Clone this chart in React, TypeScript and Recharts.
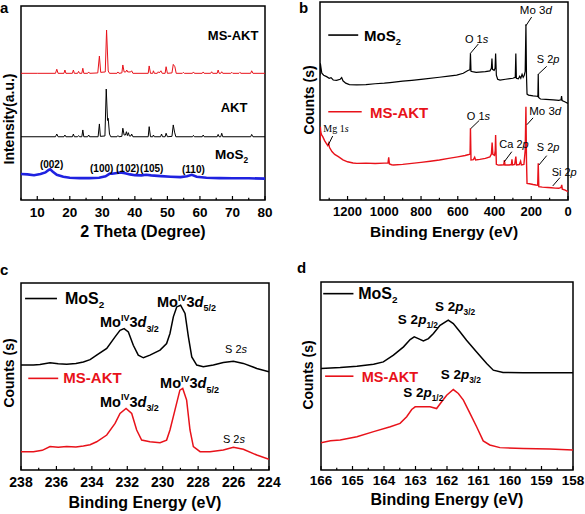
import { LineChart, Line, XAxis, YAxis, ReferenceArea, ReferenceLine, ReferenceDot } from 'recharts';

const FONT = '"Liberation Sans", Arial, sans-serif';
const SERIF = '"Liberation Serif", "Times New Roman", serif';
const RED = '#e8121a';
const BLUE = '#1f22e0';

type Pt = [number, number];
type Part = [string, ('n' | 'i' | 'sub' | 'sup')?];
type Note = { x: number; y: number; parts: Part[]; size: number; bold?: boolean; color?: string; anchor?: 'start' | 'middle'; serif?: boolean };
type Seg = { x1: number; y1: number; x2: number; y2: number; color?: string; width?: number };

// ---------- a: XRD ----------
const xrdTicks = [5, 10, 15, 20, 25, 30, 35, 40, 45, 50, 55, 60, 65, 70, 75, 80];
const xrdLabels = [10, 20, 30, 40, 50, 60, 70, 80];

const xrdMsAkt: Pt[] = [
  [5, 65.3], [10, 65.3], [15.6, 65.3], [16, 67.4], [16.4, 65.3], [18.2, 65.3], [18.5, 67], [18.8, 65.3],
  [20.8, 65.3], [21.1, 67], [21.4, 65.3], [22.4, 65.3], [22.7, 66.3], [23, 65.3], [23.7, 65.3], [24, 67.9],
  [24.3, 65.3], [25.5, 65.3], [25.8, 66], [26.1, 65.3], [28.6, 65.5], [29.1, 74.2], [29.5, 65.8], [30.9, 66],
  [31.3, 87.6], [31.8, 66.5], [32.2, 65.3], [34.5, 65.3], [34.8, 66], [35.1, 65.3], [36, 65.5], [36.3, 69.6],
  [36.7, 66], [37.2, 66], [37.5, 67], [37.8, 66], [38.7, 66], [39, 66.6], [39.4, 65.3], [44.1, 65.3],
  [44.4, 69.1], [44.8, 65.3], [45.5, 65.3], [45.7, 66.6], [46, 65.3], [46.9, 65.3], [47.2, 66.1], [47.5, 65.5],
  [48, 66.6], [48.4, 65.3], [49.3, 65.3], [49.6, 68.7], [50, 65.3], [51.4, 65.5], [51.8, 69.9], [52.3, 68.7],
  [52.7, 65.3], [54.6, 65.3], [54.9, 65.8], [55.2, 65.3], [57.7, 65.3], [58, 66], [58.3, 65.3], [60.7, 65.3],
  [61, 66], [61.3, 65.3], [63.3, 65.3], [63.6, 66.1], [63.9, 65.3], [65.3, 65.3], [65.6, 67], [65.9, 65.3],
  [66.4, 65.3], [66.7, 66.1], [67, 65.3], [69.5, 65.3], [69.8, 65.8], [70.1, 65.3], [72, 65.3], [72.3, 65.8],
  [72.6, 65.3], [75.6, 65.3], [75.9, 66.6], [76.3, 65.3], [80, 65.3],
];

const xrdAkt: Pt[] = [
  [5, 32.6], [15.6, 32.6], [16, 34], [16.4, 32.6], [18.2, 32.6], [18.5, 33.5], [18.8, 32.6], [20.8, 32.6],
  [21.1, 34], [21.4, 32.6], [22.4, 32.6], [22.7, 33.2], [23, 32.6], [23.7, 32.6], [24, 36.1], [24.3, 32.6],
  [25.5, 32.6], [25.8, 33.5], [26.1, 32.6], [28.7, 32.6], [29.1, 39.2], [29.4, 32.8], [30.8, 33], [31.2, 57.2],
  [31.6, 41], [31.8, 42.1], [32.2, 34], [32.6, 32.6], [34.5, 32.6], [34.8, 33.2], [35.1, 32.6], [36, 32.8],
  [36.3, 37], [36.7, 33.5], [37.1, 33.5], [37.4, 35.2], [37.7, 33.2], [38, 34.7], [38.3, 33], [38.8, 33],
  [39, 34], [39.4, 32.6], [44.1, 32.6], [44.4, 37.8], [44.8, 32.6], [45.5, 32.6], [45.7, 33.5], [46, 32.6],
  [47.9, 32.6], [48.2, 34], [48.5, 32.6], [49.3, 32.6], [49.6, 34.4], [50, 32.6], [51.4, 32.8], [51.8, 38.7],
  [52.2, 35], [52.6, 32.6], [57.7, 32.6], [58, 33.3], [58.3, 32.6], [60.7, 32.6], [61, 33.5], [61.3, 32.6],
  [65.3, 32.6], [65.6, 33.8], [65.9, 32.6], [66.4, 32.6], [66.7, 34.4], [67, 32.6], [75.6, 32.6], [75.9, 33.8],
  [76.3, 32.6], [80, 32.6],
];

const xrdMos2: Pt[] = [
  [5, 13.4], [7, 13.2], [9, 12.8], [11, 13.4], [12.5, 14.2], [13.5, 15.5], [14, 15.8], [14.8, 14.5], [16, 13],
  [18, 12], [20, 11.5], [23, 11.3], [26, 11.3], [29, 11.5], [31, 12.2], [32.3, 13.6], [33, 13.5], [34, 13.8],
  [35.5, 14.2], [37, 13.8], [38.5, 13.2], [40, 12.8], [42, 12.7], [43.5, 13], [45, 12.7], [48, 12.3], [51, 12],
  [54, 11.8], [56, 12.2], [57.5, 13], [59, 12], [62, 11.5], [66, 11.3], [70, 11.2], [75, 11.2], [80, 11],
];

const xrdNotes: Note[] = [
  { x: 70.2, y: 82.5, parts: [['MS-AKT']], size: 13, anchor: 'middle' },
  { x: 70.5, y: 45.5, parts: [['AKT']], size: 13, anchor: 'middle' },
  { x: 64.6, y: 21, parts: [['MoS'], ['2', 'sub']], size: 13.5 },
  { x: 14.4, y: 16.3, parts: [['(002)']], size: 10, anchor: 'middle' },
  { x: 29.8, y: 14.6, parts: [['(100)']], size: 10, anchor: 'middle' },
  { x: 37.8, y: 14.6, parts: [['(102)']], size: 10, anchor: 'middle' },
  { x: 45.2, y: 14.6, parts: [['(105)']], size: 10, anchor: 'middle' },
  { x: 58, y: 13.7, parts: [['(110)']], size: 10, anchor: 'middle' },
];

// ---------- b: XPS survey ----------
const surveyTicks = [0, 100, 200, 300, 400, 500, 600, 700, 800, 900, 1000, 1100, 1200, 1300];
const surveyLabels = [0, 200, 400, 600, 800, 1000, 1200];

const surveyMos2: Pt[] = [
  [1350, 63], [1348, 69], [1345, 67], [1340, 64], [1330, 63], [1314, 62.3], [1300, 61.5], [1290, 61.8],
  [1278, 60.6], [1260, 60.4], [1240, 61], [1232, 61.8], [1225, 60.2], [1210, 59], [1190, 58.3], [1150, 58.1],
  [1100, 58.3], [1050, 58.7], [1000, 59], [969, 59.3], [900, 60], [850, 60.4], [788, 61], [700, 62],
  [650, 62.6], [606, 63.1], [570, 64], [545, 65.4], [534, 65.7], [531, 74.1], [528, 65], [520, 64.8],
  [500, 64.5], [450, 64.8], [425, 65.2], [417, 66.5], [414, 71.5], [411, 66], [402, 65.5], [397, 66.5],
  [394, 74], [390, 63], [383, 61], [370, 60.6], [340, 61], [300, 61.5], [287, 62], [284, 74], [281, 61.5],
  [270, 61.2], [263, 62.5], [257, 61.5], [250, 63.5], [244, 62], [238, 63], [233, 65], [229, 88.7],
  [226, 63], [223, 53.5], [215, 53], [190, 52.6], [170, 52.4], [164, 52.2], [162, 63.6], [160, 51.8],
  [150, 51], [120, 50.8], [80, 50.6], [50, 50.3], [38, 50.6], [35, 52.5], [32, 50.2], [15, 49.5], [0, 48.8],
];

const surveyMsAkt: Pt[] = [
  [1350, 30], [1348, 37], [1346, 34.5], [1342, 33], [1335, 32], [1325, 30], [1315, 28.5], [1308, 27.5],
  [1303, 28.6], [1298, 26.5], [1285, 24.5], [1270, 23], [1250, 21.9], [1225, 20.3], [1200, 19.3],
  [1170, 18.7], [1150, 18.5], [1100, 18.6], [1050, 18.4], [1000, 18.6], [980, 18.7], [976, 21.6],
  [972, 18.2], [960, 17.8], [950, 17.7], [900, 18], [850, 18.5], [800, 19], [750, 19.6], [700, 20.2],
  [650, 21], [600, 21.8], [560, 22.5], [540, 23], [533, 23.2], [531, 36.2], [528, 20.2], [515, 20.4],
  [508, 21.6], [503, 20.2], [480, 20.5], [450, 21], [425, 21.8], [417, 23.2], [413, 29], [409, 23],
  [400, 22.5], [396, 25], [394, 32.8], [390, 18], [380, 17.6], [365, 17.7], [350, 17.8], [346, 20.2],
  [343, 17.7], [320, 17.7], [308, 17.9], [305, 20.5], [302, 17.7], [290, 18], [284, 21.9], [280, 17.7],
  [265, 17.9], [258, 19.6], [254, 17.7], [240, 18], [233, 25], [229, 47.1], [226, 20], [223, 8.4],
  [210, 8.2], [190, 7.8], [175, 7.6], [165, 7.5], [162, 18.5], [159, 6.7], [140, 6.5], [110, 6.3],
  [90, 6.2], [70, 6], [50, 5.9], [38, 6.3], [34, 7.6], [31, 5.5], [15, 5], [0, 4.2],
];

const surveyNotes: Note[] = [
  { x: 1110, y: 80.5, parts: [['MoS'], ['2', 'sub']], size: 15 },
  { x: 1078, y: 41.6, parts: [['MS-AKT']], size: 15, color: RED },
  { x: 561, y: 79.1, parts: [['O 1'], ['s', 'i']], size: 11, bold: false },
  { x: 262, y: 93.8, parts: [['Mo 3'], ['d', 'i']], size: 11.5, bold: false },
  { x: 170, y: 69, parts: [['S 2'], ['p', 'i']], size: 11, bold: false },
  { x: 551, y: 40.4, parts: [['O 1'], ['s', 'i']], size: 11, bold: false },
  { x: 211, y: 42.9, parts: [['Mo 3'], ['d', 'i']], size: 11.5, bold: false },
  { x: 374, y: 26.1, parts: [['Ca 2'], ['p', 'i']], size: 11, bold: false },
  { x: 170, y: 24.7, parts: [['S 2'], ['p', 'i']], size: 11, bold: false },
  { x: 89, y: 12.1, parts: [['Si 2'], ['p', 'i']], size: 11, bold: false },
  { x: 1332, y: 34.5, parts: [['Mg 1'], ['s', 'i']], size: 10, bold: false, serif: true },
];

const surveySegs: Seg[] = [
  { x1: 1305, y1: 83.3, x2: 1142, y2: 83.3, width: 1.6 },
  { x1: 1305, y1: 44.6, x2: 1123, y2: 44.6, color: RED, width: 1.6 },
  { x1: 531, y1: 74.1, x2: 488, y2: 78.8 },
  { x1: 229, y1: 88, x2: 198, y2: 92.4 },
  { x1: 162, y1: 63.5, x2: 116, y2: 67.5 },
  { x1: 530, y1: 36, x2: 483, y2: 40.2 },
  { x1: 224, y1: 38, x2: 190, y2: 41.5 },
  { x1: 347, y1: 19.3, x2: 306, y2: 24.4 },
  { x1: 158, y1: 17.7, x2: 116, y2: 22.4 },
  { x1: 83, y1: 7.1, x2: 44, y2: 11.3 },
  { x1: 1305, y1: 27.8, x2: 1281, y2: 32.3 },
];

// ---------- c: Mo 3d ----------
const moTicks = [224, 225, 226, 227, 228, 229, 230, 231, 232, 233, 234, 235, 236, 237, 238];
const moLabels = [224, 226, 228, 230, 232, 234, 236, 238];

const mo3dMos2: Pt[] = [
  [238, 56.1], [237.3, 56.2], [236.93, 56.4], [236.36, 57.3], [235.9, 56.8], [235.42, 56.6], [234.9, 57],
  [234.48, 57.8], [234.1, 59], [233.73, 61.4], [233.16, 65], [232.69, 71.2], [232.41, 74.7], [232.18, 75.6],
  [231.94, 73.8], [231.66, 66.7], [231.38, 61.4], [231.09, 60], [230.72, 61.4], [230.15, 64.1], [229.78, 67.6],
  [229.59, 73], [229.4, 81.9], [229.21, 87.2], [228.99, 88.1], [228.74, 83.7], [228.55, 71.2], [228.36, 60.5],
  [228.08, 56.1], [227.71, 55.2], [227.14, 56.1], [226.58, 57.5], [226.01, 58.2], [225.45, 57], [224.69, 54.3],
  [224, 52.5],
];

const mo3dMsAkt: Pt[] = [
  [238, 9.8], [237.3, 9.8], [236.8, 10.5], [236.36, 12.5], [235.9, 12.2], [235.42, 12.5], [234.9, 12.3],
  [234.48, 12.8], [234.1, 13.5], [233.73, 15.1], [233.16, 18.7], [232.69, 24.9], [232.41, 30.2], [232.07, 32.9],
  [231.75, 30.2], [231.47, 21.4], [231.19, 16], [230.72, 15.1], [230.15, 14.6], [229.78, 16], [229.59, 21.4],
  [229.31, 32], [229.03, 42.7], [228.87, 43.6], [228.65, 37.4], [228.46, 21.4], [228.27, 12.5], [227.89, 9.8],
  [227.33, 9.8], [226.58, 10.7], [226.01, 12.1], [225.45, 11.1], [224.69, 8], [224, 5.7],
];

const moIv = (j: string): Part[] => [['Mo'], ['IV', 'sup'], ['3'], ['d', 'i'], [j, 'sub']];

const mo3dNotes: Note[] = [
  { x: 235.52, y: 89, parts: [['MoS'], ['2', 'sub']], size: 16 },
  { x: 235.61, y: 46.3, parts: [['MS-AKT']], size: 15, color: RED },
  { x: 233.54, y: 76.3, parts: moIv('3/2'), size: 14.5 },
  { x: 230.32, y: 87.1, parts: moIv('5/2'), size: 14.5 },
  { x: 226.48, y: 62.3, parts: [['S 2'], ['s', 'i']], size: 11, bold: false },
  { x: 233.54, y: 33.8, parts: moIv('3/2'), size: 14.5 },
  { x: 230.15, y: 43.6, parts: moIv('5/2'), size: 14.5 },
  { x: 226.6, y: 14.2, parts: [['S 2'], ['s', 'i']], size: 11, bold: false },
];

const mo3dSegs: Seg[] = [
  { x1: 237.77, y1: 91.7, x2: 235.97, y2: 91.7, width: 1.6 },
  { x1: 237.59, y1: 49, x2: 235.9, y2: 49, color: RED, width: 1.6 },
];

// ---------- d: S 2p ----------
const sTicks = [158, 158.5, 159, 159.5, 160, 160.5, 161, 161.5, 162, 162.5, 163, 163.5, 164, 164.5, 165, 165.5, 166];
const sLabels = [158, 159, 160, 161, 162, 163, 164, 165, 166];

const s2pMos2: Pt[] = [
  [166, 54], [165.39, 54.5], [164.86, 55.2], [164.33, 56.3], [164.02, 57.5], [163.7, 61.1], [163.38, 65.5],
  [163.17, 69.4], [163.04, 70.8], [162.91, 69.9], [162.75, 68.7], [162.59, 69.9], [162.43, 72.6], [162.22, 77],
  [161.96, 79.7], [161.8, 77.9], [161.59, 73.5], [161.38, 69], [161.06, 62.8], [160.74, 56.7], [160.53, 53.1],
  [160.22, 51.9], [159.58, 51.7], [158.74, 51.7], [158, 51.7],
];

const s2pMsAkt: Pt[] = [
  [166, 14.5], [165.7, 15.6], [165.39, 15.9], [164.86, 17.7], [164.33, 20.4], [163.8, 23], [163.49, 24.8],
  [163.28, 28.3], [163.12, 32.2], [163.01, 33.6], [162.75, 33.6], [162.54, 33.6], [162.33, 32.7], [162.17, 36.3],
  [162.01, 39.8], [161.8, 42.8], [161.64, 40.7], [161.48, 37.2], [161.27, 30.1], [161.06, 23], [160.85, 15.5],
  [160.64, 13.3], [160.32, 11.9], [159.58, 11.5], [158.74, 11.2], [158, 10.6],
];

const s2p = (j: string): Part[] => [['S 2'], ['p', 'i'], [j, 'sub']];

const s2pNotes: Note[] = [
  { x: 164.82, y: 91.2, parts: [['MoS'], ['2', 'sub']], size: 16 },
  { x: 164.71, y: 46.9, parts: [['MS-AKT']], size: 14.5, color: RED },
  { x: 163.56, y: 77.5, parts: s2p('1/2'), size: 13.5 },
  { x: 162.38, y: 84.6, parts: s2p('3/2'), size: 13.5 },
  { x: 163.39, y: 38.6, parts: s2p('1/2'), size: 13.5 },
  { x: 162.2, y: 48.2, parts: s2p('3/2'), size: 13.5 },
];

const s2pSegs: Seg[] = [
  { x1: 165.93, y1: 93.8, x2: 164.97, y2: 93.8, width: 1.6 },
  { x1: 165.87, y1: 49.9, x2: 164.97, y2: 49.9, color: RED, width: 1.6 },
];

// ---------- helpers ----------
const pts = (a: Pt[]) => a.map(([x, y]) => ({ x, y }));

function rich(parts: Part[], size: number) {
  let shift = 0;
  return parts.map(([t, kind], i) => {
    const target = kind === 'sub' ? size * 0.3 : kind === 'sup' ? -size * 0.45 : 0;
    const dy = target - shift;
    shift = target;
    const small = kind === 'sub' || kind === 'sup';
    return (
      <tspan key={i} dy={dy} fontSize={small ? size * 0.62 : size} fontStyle={kind === 'i' ? 'italic' : 'normal'}>
        {t}
      </tspan>
    );
  });
}

const noteDot = (n: Note, key: string) => (
  <ReferenceDot
    key={key}
    x={n.x}
    y={n.y}
    r={0}
    ifOverflow="visible"
    shape={(p: any) => (
      <text
        x={p.cx}
        y={p.cy}
        fontFamily={n.serif ? SERIF : FONT}
        fontWeight={n.bold === false ? 'normal' : 'bold'}
        fontSize={n.size}
        fill={n.color ?? '#000'}
        textAnchor={n.anchor ?? 'start'}
      >
        {rich(n.parts, n.size)}
      </text>
    )}
  />
);

const segLine = (s: Seg, key: string) => (
  <ReferenceLine
    key={key}
    segment={[{ x: s.x1, y: s.y1 }, { x: s.x2, y: s.y2 }]}
    stroke={s.color ?? '#000'}
    strokeWidth={s.width ?? 1}
  />
);

const axisTick = (labels: number[], size: number, gap: number, len: number) => (p: any) => {
  const v = p.payload.value;
  const major = labels.includes(v);
  return (
    <g>
      <line x1={p.x} x2={p.x} y1={p.y} y2={p.y - (major ? len : len * 0.55)} stroke="#000" strokeWidth={1.2} />
      {major ? (
        <text x={p.x} y={p.y + gap} textAnchor="middle" fontFamily={FONT} fontWeight="bold" fontSize={size} fill="#000">
          {v}
        </text>
      ) : null}
    </g>
  );
};

const title = (text: string, x: number, y: number, size: number) => () => (
  <text x={x} y={y} textAnchor="middle" fontFamily={FONT} fontWeight="bold" fontSize={size} fill="#000">
    {text}
  </text>
);

const yTitle = (text: string, x: number, y: number, size: number) => () => (
  <text transform={`translate(${x},${y}) rotate(-90)`} textAnchor="middle" fontFamily={FONT} fontWeight="bold" fontSize={size} fill="#000">
    {text}
  </text>
);

const frame = (x1: number, x2: number) => (
  <ReferenceArea x1={x1} x2={x2} y1={0} y2={100} fill="none" fillOpacity={0} stroke="#000" strokeWidth={1.5} ifOverflow="visible" />
);

export default function App() {
  return (
    <div style={{ position: 'absolute', left: 0, top: 0, width: 585, height: 514, background: '#fff' }}>
      <div style={{ position: 'absolute', left: 0, top: 0 }}>
        <LineChart width={290} height={250} margin={{ top: 6, right: 25, bottom: 0, left: 0 }}>
          <XAxis type="number" dataKey="x" domain={[5, 80]} ticks={xrdTicks} interval={0} height={50}
            tickSize={0} tickMargin={0} tickLine={false} axisLine={false} allowDataOverflow
            tick={axisTick(xrdLabels, 13.5, 16.5, 4)}
            label={{ content: title('2 Theta (Degree)', 143, 237, 16) }} />
          <YAxis type="number" domain={[0, 100]} width={21} tick={false} tickLine={false} axisLine={false} allowDataOverflow
            label={{ content: yTitle('Intensity(a.u.)', 14, 119, 14) }} />
          {frame(5, 80)}
          <Line data={pts(xrdMos2)} dataKey="y" stroke={BLUE} strokeWidth={2.6} dot={false} isAnimationActive={false} />
          <Line data={pts(xrdAkt)} dataKey="y" stroke="#000" strokeWidth={1} dot={false} isAnimationActive={false} />
          <Line data={pts(xrdMsAkt)} dataKey="y" stroke={RED} strokeWidth={1} dot={false} isAnimationActive={false} />
          {xrdNotes.map((n, i) => noteDot(n, `a${i}`))}
        </LineChart>
      </div>

      <div style={{ position: 'absolute', left: 290, top: 0 }}>
        <LineChart width={295} height={250} margin={{ top: 2, right: 17, bottom: 0, left: 0 }}>
          <XAxis type="number" dataKey="x" domain={[0, 1350]} reversed ticks={surveyTicks} interval={0} height={50}
            tickSize={0} tickMargin={0} tickLine={false} axisLine={false} allowDataOverflow
            tick={axisTick(surveyLabels, 13, 16, 4)}
            label={{ content: title('Binding Energy (eV)', 154, 237, 15.5) }} />
          <YAxis type="number" domain={[0, 100]} width={30} tick={false} tickLine={false} axisLine={false} allowDataOverflow
            label={{ content: yTitle('Counts (s)', 24, 100, 14) }} />
          {frame(0, 1350)}
          <Line data={pts(surveyMos2)} dataKey="y" stroke="#000" strokeWidth={1.2} dot={false} isAnimationActive={false} />
          <Line data={pts(surveyMsAkt)} dataKey="y" stroke={RED} strokeWidth={1.4} dot={false} isAnimationActive={false} />
          {surveySegs.map((s, i) => segLine(s, `bs${i}`))}
          {surveyNotes.map((n, i) => noteDot(n, `b${i}`))}
        </LineChart>
      </div>

      <div style={{ position: 'absolute', left: 0, top: 250 }}>
        <LineChart width={290} height={264} margin={{ top: 33, right: 21, bottom: 0, left: 0 }}>
          <XAxis type="number" dataKey="x" domain={[224, 238]} reversed ticks={moTicks} interval={0} height={44}
            tickSize={0} tickMargin={0} tickLine={false} axisLine={false} allowDataOverflow
            tick={axisTick(moLabels, 14, 16.7, 4)}
            label={{ content: title('Binding Energy (eV)', 145, 258, 16) }} />
          <YAxis type="number" domain={[0, 100]} width={21} tick={false} tickLine={false} axisLine={false} allowDataOverflow
            label={{ content: yTitle('Counts (s)', 14, 123, 14) }} />
          {frame(224, 238)}
          <Line data={pts(mo3dMos2)} dataKey="y" stroke="#000" strokeWidth={1.5} dot={false} isAnimationActive={false} />
          <Line data={pts(mo3dMsAkt)} dataKey="y" stroke={RED} strokeWidth={1.5} dot={false} isAnimationActive={false} />
          {mo3dSegs.map((s, i) => segLine(s, `cs${i}`))}
          {mo3dNotes.map((n, i) => noteDot(n, `c${i}`))}
        </LineChart>
      </div>

      <div style={{ position: 'absolute', left: 290, top: 250 }}>
        <LineChart width={295} height={264} margin={{ top: 32, right: 12, bottom: 0, left: 0 }}>
          <XAxis type="number" dataKey="x" domain={[158, 166]} reversed ticks={sTicks} interval={0} height={44}
            tickSize={0} tickMargin={0} tickLine={false} axisLine={false} allowDataOverflow
            tick={axisTick(sLabels, 13.5, 15, 4)}
            label={{ content: title('Binding Energy (eV)', 157, 255, 16) }} />
          <YAxis type="number" domain={[0, 100]} width={31} tick={false} tickLine={false} axisLine={false} allowDataOverflow
            label={{ content: yTitle('Counts (s)', 23, 125, 14) }} />
          {frame(158, 166)}
          <Line data={pts(s2pMos2)} dataKey="y" stroke="#000" strokeWidth={1.5} dot={false} isAnimationActive={false} />
          <Line data={pts(s2pMsAkt)} dataKey="y" stroke={RED} strokeWidth={1.5} dot={false} isAnimationActive={false} />
          {s2pSegs.map((s, i) => segLine(s, `ds${i}`))}
          {s2pNotes.map((n, i) => noteDot(n, `d${i}`))}
        </LineChart>
      </div>

      <svg width={585} height={514} style={{ position: 'absolute', left: 0, top: 0, pointerEvents: 'none' }}>
        <g fontFamily={FONT} fontWeight="bold" fontSize={15} fill="#000">
          <text x={0} y={13}>a</text>
          <text x={299} y={13}>b</text>
          <text x={0} y={275}>c</text>
          <text x={297} y={273}>d</text>
        </g>
      </svg>
    </div>
  );
}
